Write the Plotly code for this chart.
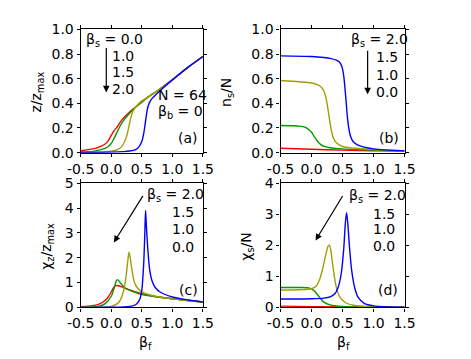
import plotly.graph_objects as go

W, H = 471, 359

# ---------------- data ----------------
beta_s_labels = ["0.0", "1.0", "1.5", "2.0"]
colors = ["#ff0000", "#009900", "#9f9f00", "#0000ff"]

# (a) z/z_max vs beta_f
a_red_x = [-0.5, -0.3, -0.2, -0.1, -0.05, 0.0, 0.05, 0.1, 0.15, 0.2, 0.3, 0.4, 0.5, 0.6, 0.75, 1.0, 1.25, 1.5]
a_red_y = [0.015, 0.03, 0.045, 0.07, 0.095, 0.14, 0.18, 0.21, 0.25, 0.28, 0.33, 0.37, 0.41, 0.45, 0.50, 0.59, 0.69, 0.78]
a_grn_x = [-0.5, -0.3, -0.2, -0.1, -0.05, 0.0, 0.05, 0.1, 0.15, 0.2, 0.3, 0.4, 0.5, 0.6, 0.75, 1.0, 1.25, 1.5]
a_grn_y = [0.005, 0.01, 0.02, 0.035, 0.05, 0.075, 0.12, 0.17, 0.22, 0.26, 0.32, 0.37, 0.41, 0.45, 0.50, 0.59, 0.69, 0.78]
a_olv_x = [-0.5, -0.2, 0.0, 0.1, 0.15, 0.2, 0.25, 0.28, 0.3, 0.33, 0.36, 0.4, 0.5, 0.6, 0.75, 1.0, 1.25, 1.5]
a_olv_y = [0.003, 0.005, 0.012, 0.025, 0.04, 0.07, 0.13, 0.19, 0.24, 0.30, 0.34, 0.37, 0.42, 0.45, 0.50, 0.59, 0.69, 0.78]
a_blu_x = [-0.5, 0.0, 0.2, 0.3, 0.4, 0.45, 0.5, 0.53, 0.56, 0.58, 0.6, 0.63, 0.67, 0.75, 1.0, 1.25, 1.5]
a_blu_y = [0.002, 0.004, 0.008, 0.013, 0.025, 0.045, 0.09, 0.15, 0.25, 0.32, 0.37, 0.41, 0.44, 0.48, 0.59, 0.69, 0.78]

# (b) n_s/N vs beta_f
b_red_x = [-0.5, 0.0, 0.5, 1.0, 1.5]
b_red_y = [0.035, 0.028, 0.02, 0.015, 0.012]
b_grn_x = [-0.5, -0.3, -0.2, -0.1, -0.05, 0.0, 0.05, 0.1, 0.15, 0.2, 0.3, 0.5, 1.0, 1.5]
b_grn_y = [0.22, 0.218, 0.215, 0.205, 0.19, 0.165, 0.125, 0.09, 0.065, 0.05, 0.04, 0.03, 0.02, 0.015]
b_olv_x = [-0.5, -0.2, 0.0, 0.1, 0.15, 0.2, 0.23, 0.26, 0.29, 0.32, 0.35, 0.4, 0.5, 0.7, 1.0, 1.5]
b_olv_y = [0.585, 0.575, 0.565, 0.55, 0.535, 0.5, 0.45, 0.37, 0.27, 0.18, 0.12, 0.08, 0.05, 0.035, 0.025, 0.015]
b_blu_x = [-0.5, 0.0, 0.2, 0.3, 0.4, 0.45, 0.48, 0.5, 0.52, 0.54, 0.56, 0.58, 0.6, 0.63, 0.67, 0.75, 1.0, 1.5]
b_blu_y = [0.785, 0.78, 0.772, 0.765, 0.75, 0.735, 0.71, 0.68, 0.62, 0.52, 0.40, 0.28, 0.2, 0.13, 0.09, 0.06, 0.03, 0.015]

# (c) chi_z/z_max vs beta_f
c_red_x = [-0.5, -0.3, -0.2, -0.1, -0.05, 0.0, 0.04, 0.08, 0.12, 0.2, 0.3, 0.4, 0.5, 0.7, 1.0, 1.25, 1.5]
c_red_y = [0.03, 0.07, 0.13, 0.28, 0.42, 0.62, 0.8, 0.88, 0.87, 0.8, 0.7, 0.62, 0.55, 0.45, 0.35, 0.28, 0.22]
c_grn_x = [-0.5, -0.3, -0.2, -0.1, 0.0, 0.05, 0.08, 0.1, 0.13, 0.17, 0.22, 0.3, 0.4, 0.5, 0.7, 1.0, 1.5]
c_grn_y = [0.005, 0.02, 0.05, 0.15, 0.45, 0.8, 1.05, 1.12, 1.05, 0.92, 0.8, 0.7, 0.6, 0.52, 0.44, 0.35, 0.22]
c_olv_x = [-0.5, -0.2, 0.0, 0.1, 0.15, 0.2, 0.24, 0.27, 0.29, 0.31, 0.34, 0.38, 0.43, 0.5, 0.7, 1.0, 1.5]
c_olv_y = [0.0, 0.01, 0.04, 0.15, 0.3, 0.65, 1.2, 1.85, 2.22, 2.0, 1.5, 1.0, 0.78, 0.63, 0.46, 0.35, 0.22]
c_blu_x = [-0.5, 0.0, 0.2, 0.35, 0.42, 0.47, 0.5, 0.53, 0.55, 0.562, 0.575, 0.6, 0.63, 0.67, 0.72, 0.8, 1.0, 1.25, 1.5]
c_blu_y = [0.0, 0.005, 0.02, 0.06, 0.15, 0.35, 0.7, 1.7, 3.0, 3.9, 3.3, 2.3, 1.5, 1.05, 0.8, 0.62, 0.42, 0.3, 0.22]

# (d) chi_s/N vs beta_f
d_red_x = [-0.5, 0.0, 0.5, 1.0, 1.5]
d_red_y = [0.04, 0.025, 0.015, 0.01, 0.008]
d_grn_x = [-0.5, -0.2, -0.05, 0.0, 0.05, 0.1, 0.15, 0.2, 0.3, 0.5, 1.0, 1.5]
d_grn_y = [0.64, 0.64, 0.63, 0.6, 0.52, 0.4, 0.27, 0.17, 0.08, 0.03, 0.01, 0.005]
d_olv_x = [-0.5, -0.2, 0.0, 0.08, 0.13, 0.18, 0.23, 0.27, 0.29, 0.31, 0.34, 0.38, 0.42, 0.47, 0.55, 0.7, 1.0, 1.5]
d_olv_y = [0.56, 0.57, 0.6, 0.7, 0.9, 1.25, 1.7, 1.98, 2.0, 1.85, 1.4, 0.85, 0.5, 0.3, 0.15, 0.06, 0.02, 0.005]
d_blu_x = [-0.5, 0.0, 0.2, 0.3, 0.38, 0.43, 0.48, 0.52, 0.545, 0.565, 0.585, 0.61, 0.65, 0.7, 0.75, 0.85, 1.0, 1.5]
d_blu_y = [0.27, 0.28, 0.3, 0.34, 0.45, 0.65, 1.1, 1.9, 2.7, 3.05, 2.7, 2.0, 1.15, 0.6, 0.33, 0.13, 0.05, 0.01]

x_tickvals = [-0.5, 0.0, 0.5, 1.0, 1.5]
x_ticktext = ["-0.5", "0.0", "0.5", "1.0", "1.5"]
ab_tickvals = [0.0, 0.2, 0.4, 0.6, 0.8, 1.0]
ab_ticktext = ["0.0", "0.2", "0.4", "0.6", "0.8", "1.0"]
c_tickvals = [0, 1, 2, 3, 4, 5]
d_tickvals = [0, 1, 2, 3, 4]

panels = {
    "a": [(a_red_x, a_red_y), (a_grn_x, a_grn_y), (a_olv_x, a_olv_y), (a_blu_x, a_blu_y)],
    "b": [(b_red_x, b_red_y), (b_grn_x, b_grn_y), (b_olv_x, b_olv_y), (b_blu_x, b_blu_y)],
    "c": [(c_red_x, c_red_y), (c_grn_x, c_grn_y), (c_olv_x, c_olv_y), (c_blu_x, c_blu_y)],
    "d": [(d_red_x, d_red_y), (d_grn_x, d_grn_y), (d_olv_x, d_olv_y), (d_blu_x, d_blu_y)],
}
axis_ids = {"a": ("x", "y"), "b": ("x2", "y2"), "c": ("x3", "y3"), "d": ("x4", "y4")}

# ---------------- figure ----------------
fig = go.Figure()
for key, curves in panels.items():
    xa, ya = axis_ids[key]
    for (xs, ys), col, lab in zip(curves, colors, beta_s_labels):
        fig.add_trace(go.Scatter(x=xs, y=ys, mode="lines", xaxis=xa, yaxis=ya,
                                 line=dict(color=col, width=1.4, shape="spline", smoothing=0.8),
                                 name="β_s = " + lab, showlegend=False))

FONT = "DejaVu Sans, Arial, sans-serif"
FS = 14


def px2paper(px, py):
    return px / W, 1 - py / H


xl = (62 / W, 191 / W)
xr = (273 / W, 404 / W)
yt = (1 - 143 / H, 1 - 14 / H)
yb = (1 - 305 / H, 1 - 175 / H)

axcommon = dict(showline=True, linecolor="black", linewidth=1.3, mirror="ticks",
                ticks="outside", ticklen=3, tickwidth=1.3, tickcolor="black",
                showgrid=False, zeroline=False,
                tickfont=dict(family=FONT, size=FS, color="black"))

layout = dict(
    width=W, height=H, margin=dict(l=0, r=0, t=0, b=0),
    paper_bgcolor="white", plot_bgcolor="white", showlegend=False,
    font=dict(family=FONT, size=FS, color="black"),
)
for i, (dx, dy) in enumerate([(xl, yt), (xr, yt), (xl, yb), (xr, yb)], start=1):
    sfx = "" if i == 1 else str(i)
    layout["xaxis" + sfx] = dict(domain=list(dx), anchor="y" + sfx, range=[-0.5, 1.5],
                                 tickvals=x_tickvals, ticktext=x_ticktext, **axcommon)
    yd = dict(domain=list(dy), anchor="x" + sfx, **axcommon)
    if i <= 2:
        yd.update(range=[0, 1], tickvals=ab_tickvals, ticktext=ab_ticktext)
    elif i == 3:
        yd.update(range=[0, 5], tickvals=c_tickvals)
    else:
        yd.update(range=[0, 4], tickvals=d_tickvals)
    layout["yaxis" + sfx] = yd
fig.update_layout(**layout)

ann = []


def text(px, py, s, anchor="left", angle=0):
    x, y = px2paper(px, py)
    ann.append(dict(x=x, y=y, xref="paper", yref="paper", text=s, showarrow=False,
                    xanchor=anchor, yanchor="middle", textangle=angle,
                    font=dict(family=FONT, size=FS, color="black")))


def arrow(hx, hy, tx, ty):
    x, y = px2paper(hx, hy)
    ann.append(dict(x=x, y=y, xref="paper", yref="paper", text="", showarrow=True,
                    ax=tx - hx, ay=ty - hy, arrowhead=2, arrowsize=1.1, arrowwidth=1.2,
                    arrowcolor="black"))


# axis titles
text(16, 80, "z/z<sub>max</sub>", "center", -90)
text(217, 80, "n<sub>s</sub>/N", "center", -90)
text(27, 241, "χ<sub>z</sub>/z<sub>max</sub>", "center", -90)
text(238, 241, "χ<sub>s</sub>/N", "center", -90)
text(130, 342, "β<sub>f</sub>", "center")
text(340, 342, "β<sub>f</sub>", "center")

# panel (a)
text(65, 25, "β<sub>s</sub> = 0.0")
for lab, py in zip(["1.0", "1.5", "2.0"], [42, 59, 76]):
    text(120, py, lab, "right")
arrow(89, 80, 89, 34)
text(142, 83, "N = 64")
text(142, 100, "β<sub>b</sub> = 0")
text(188, 128, "(a)", "right")

# panel (b)
text(345, 25, "β<sub>s</sub> = 2.0")
for lab, py in zip(["1.5", "1.0", "0.0"], [43, 62, 80]):
    text(399, py, lab, "right")
arrow(365, 82, 365, 37)
text(400, 128, "(b)", "right")

# panel (c)
text(130, 187, "β<sub>s</sub> = 2.0")
for lab, py in zip(["1.5", "1.0", "0.0"], [205, 223, 242]):
    text(184, py, lab, "right")
arrow(97, 237, 127, 189)
text(188, 287, "(c)", "right")

# panel (d)
text(343, 188, "β<sub>s</sub> = 2.0")
for lab, py in zip(["1.5", "1.0", "0.0"], [207, 223, 241]):
    text(396, py, lab, "right")
arrow(310, 235, 338, 189)
text(399, 287, "(d)", "right")

fig.update_layout(annotations=ann)
fig.write_html("out.html")
